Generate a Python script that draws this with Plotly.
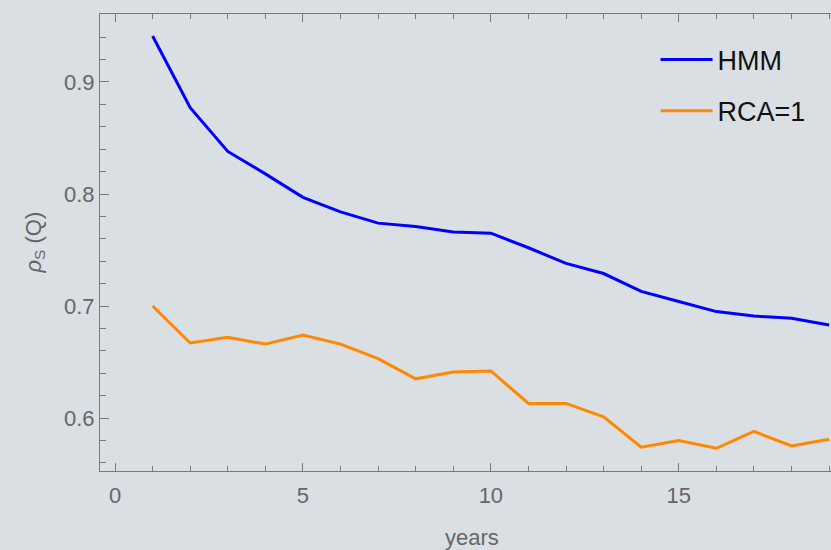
import plotly.graph_objects as go

years = list(range(1, 20))
hmm = [0.941, 0.877, 0.838, 0.818, 0.797, 0.784, 0.774, 0.771, 0.766, 0.765,
       0.752, 0.738, 0.729, 0.713, 0.704, 0.695, 0.691, 0.689, 0.683]
rca1 = [0.700, 0.667, 0.672, 0.666, 0.674, 0.666, 0.653, 0.635, 0.641, 0.642,
        0.613, 0.613, 0.601, 0.574, 0.580, 0.573, 0.588, 0.575, 0.581]

x_ticks = [0, 5, 10, 15]
y_ticks = [0.6, 0.7, 0.8, 0.9]

BG = "#dadfe3"
AXIS = "#7a7a7a"
TXT = "#666666"
FONT = "Liberation Sans, Arial, sans-serif"

fig = go.Figure()
fig.add_trace(go.Scatter(x=years, y=hmm, mode="lines", name="HMM",
                         line=dict(color="#0000ff", width=3), legendgroup="a"))
fig.add_trace(go.Scatter(x=years, y=rca1, mode="lines", name="RCA=1",
                         line=dict(color="#ff8800", width=3), legendgroup="b"))

fig.update_layout(
    width=831, height=550,
    margin=dict(l=100, r=0, t=14, b=79),
    paper_bgcolor=BG, plot_bgcolor=BG,
    font=dict(family=FONT, color=TXT),
    showlegend=True,
    legend=dict(x=0.76, y=0.953, xanchor="left", yanchor="top",
                bgcolor="rgba(0,0,0,0)", font=dict(size=27, color="#111111"),
                tracegroupgap=13, itemwidth=52),
    xaxis=dict(range=[-0.4, 19.05], tickvals=x_ticks, ticktext=[str(v) for v in x_ticks],
               ticks="inside", ticklen=8, tickwidth=1, tickcolor=AXIS,
               minor=dict(dtick=1, ticks="inside", ticklen=5, tickcolor=AXIS, tickwidth=1, showgrid=False),
               showline=True, linecolor=AXIS, linewidth=1, mirror="ticks",
               showgrid=False, zeroline=False, ticklabelstandoff=5,
               tickfont=dict(size=22, color=TXT)),
    yaxis=dict(range=[0.5527, 0.9607], tickvals=y_ticks, ticktext=[f"{v:.1f}" for v in y_ticks],
               ticks="inside", ticklen=9, tickwidth=1, tickcolor=AXIS,
               minor=dict(dtick=0.02, tick0=0.6, ticks="inside", ticklen=6, tickcolor=AXIS, tickwidth=1, showgrid=False),
               showline=True, linecolor=AXIS, linewidth=1,
               showgrid=False, zeroline=False,
               tickfont=dict(size=22, color=TXT)),
)

fig.add_annotation(text="years", x=9.5, xref="x", y=0, yref="paper", yanchor="middle",
                   yshift=-66, showarrow=False, font=dict(size=22, color=TXT))
fig.add_annotation(text="<i>ρ</i><sub>S</sub> (Q)", x=0, xref="paper", xanchor="center",
                   xshift=-66, y=0.5, yref="paper", yanchor="middle", textangle=-90,
                   showarrow=False, font=dict(size=22, color=TXT))

fig.write_html("out.html")
